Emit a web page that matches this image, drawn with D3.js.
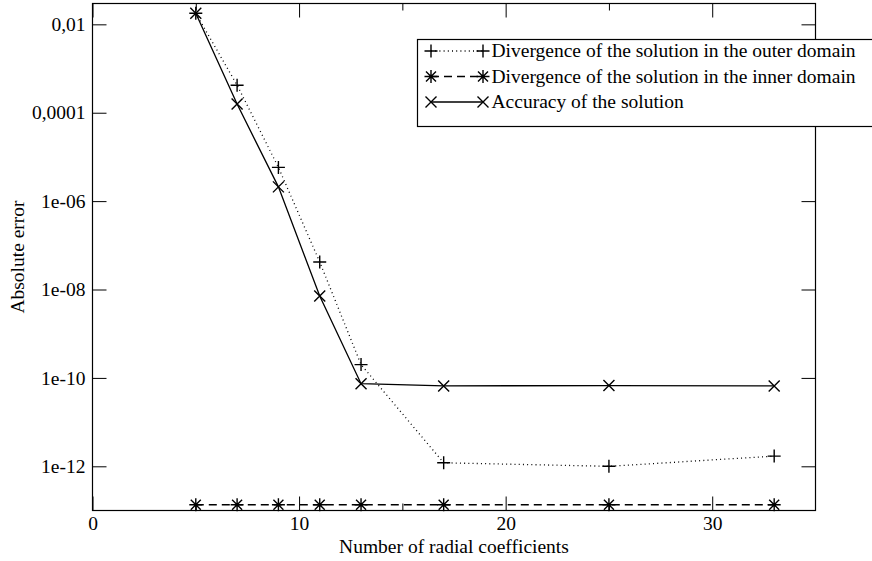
<!DOCTYPE html>
<html>
<head>
<meta charset="utf-8">
<script src="https://cdn.jsdelivr.net/npm/d3@7"></script>
<style>
  body { margin: 0; background: #fff; }
  svg text { font-family: "Liberation Serif", "Times New Roman", serif; font-size: 19.5px; fill: #000; }
</style>
</head>
<body>
<div id="chart"></div>
<script>
// number of radial coefficients
var coefs = [5, 7, 9, 11, 13, 17, 25, 33];

// absolute errors
var outerDiv = [1.78e-2, 4.2e-4, 5.8e-6, 4.2e-8, 2.0e-10, 1.2e-12, 1.0e-12, 1.7e-12];
var innerDiv = [1.35e-13, 1.35e-13, 1.35e-13, 1.35e-13, 1.35e-13, 1.35e-13, 1.35e-13, 1.35e-13];
var accuracy = [1.78e-2, 1.57e-4, 2.1e-6, 7.1e-9, 7.4e-11, 6.6e-11, 6.7e-11, 6.6e-11];

var seriesNames = [
  "Divergence of the solution in the outer domain",
  "Divergence of the solution in the inner domain",
  "Accuracy of the solution"
];

var xTicks = [0, 10, 20, 30];
var xMinorTicks = [5, 15, 25];
var yTicks = [1e-2, 1e-4, 1e-6, 1e-8, 1e-10, 1e-12];
var yTickLabels = ["0,01", "0,0001", "1e-06", "1e-08", "1e-10", "1e-12"];

var W = 872, H = 561;
var plot = {left: 92.5, right: 815.5, top: 3.5, bottom: 510.5};

var svg = d3.select('#chart').append('svg')
  .attr('width', W)
  .attr('height', H);

var x = d3.scaleLinear().domain([0, 35]).range([plot.left, plot.right]);
var y = d3.scaleLog().domain([1e-13, 0.0296]).range([plot.bottom, plot.top]);

// markers
var markers = {
  plus: 'M-6.5,0H6.5M0,-6.5V6.5',
  star: 'M-6.5,0H6.5M0,-6.5V6.5M-5,-5L5,5M-5,5L5,-5',
  cross: 'M-5.5,-5.5L5.5,5.5M-5.5,5.5L5.5,-5.5'
};

var series = [
  {name: seriesNames[0], values: outerDiv, dash: '1,3.2', marker: 'plus'},
  {name: seriesNames[1], values: innerDiv, dash: '8,5', marker: 'star'},
  {name: seriesNames[2], values: accuracy, dash: null, marker: 'cross'}
];

// ticks (gnuplot style: inward, mirrored)
var axes = svg.append('g');
axes.append('g')
  .attr('transform', 'translate(' + plot.left + ',0)')
  .call(d3.axisLeft(y).tickValues(yTicks).tickSizeInner(-14).tickSizeOuter(0).tickPadding(7)
    .tickFormat(function(d, i){ return yTickLabels[i]; }));
axes.append('g')
  .attr('transform', 'translate(' + plot.right + ',0)')
  .call(d3.axisRight(y).tickValues(yTicks).tickSizeInner(-14).tickSizeOuter(0).tickFormat(''));
axes.append('g')
  .attr('transform', 'translate(0,' + plot.bottom + ')')
  .call(d3.axisBottom(x).tickValues(xTicks).tickSizeInner(-14).tickSizeOuter(0).tickPadding(6)
    .tickFormat(d3.format('d')));
axes.append('g')
  .attr('transform', 'translate(0,' + plot.bottom + ')')
  .call(d3.axisBottom(x).tickValues(xMinorTicks).tickSizeInner(-7).tickSizeOuter(0).tickFormat(''));
axes.append('g')
  .attr('transform', 'translate(0,' + plot.top + ')')
  .call(d3.axisTop(x).tickValues(xTicks).tickSizeInner(-14).tickSizeOuter(0).tickFormat(''));
axes.append('g')
  .attr('transform', 'translate(0,' + plot.top + ')')
  .call(d3.axisTop(x).tickValues(xMinorTicks).tickSizeInner(-7).tickSizeOuter(0).tickFormat(''));

axes.selectAll('.domain').remove();
axes.selectAll('.tick line').attr('stroke', '#000').attr('stroke-width', 1);
axes.selectAll('.tick text')
  .style('font-family', '"Liberation Serif", serif')
  .style('font-size', '19.5px');

// border
svg.append('rect')
  .attr('x', plot.left).attr('y', plot.top)
  .attr('width', plot.right - plot.left).attr('height', plot.bottom - plot.top)
  .attr('fill', 'none').attr('stroke', '#000').attr('stroke-width', 1.2);

// lines
var line = d3.line()
  .x(function(d, i){ return x(coefs[i]); })
  .y(function(d){ return y(d); });

series.forEach(function(s){
  svg.append('path')
    .datum(s.values)
    .attr('d', line)
    .attr('fill', 'none')
    .attr('stroke', '#000')
    .attr('stroke-width', 1.3)
    .attr('stroke-dasharray', s.dash);

  svg.append('g').selectAll('path')
    .data(s.values)
    .enter().append('path')
    .attr('transform', function(d, i){ return 'translate(' + x(coefs[i]) + ',' + y(d) + ')'; })
    .attr('d', markers[s.marker])
    .attr('fill', 'none')
    .attr('stroke', '#000')
    .attr('stroke-width', 1.4);
});

// legend
var legend = svg.append('g');
legend.append('rect')
  .attr('x', 417.5).attr('y', 39.5)
  .attr('width', 480).attr('height', 87)
  .attr('fill', '#fff').attr('stroke', '#000').attr('stroke-width', 1.2);

series.forEach(function(s, i){
  var ly = 51 + i * 25.5;
  legend.append('line')
    .attr('x1', 431).attr('x2', 483)
    .attr('y1', ly).attr('y2', ly)
    .attr('stroke', '#000').attr('stroke-width', 1.3)
    .attr('stroke-dasharray', s.dash);
  [431, 483].forEach(function(mx){
    legend.append('path')
      .attr('transform', 'translate(' + mx + ',' + ly + ')')
      .attr('d', markers[s.marker])
      .attr('fill', 'none').attr('stroke', '#000').attr('stroke-width', 1.4);
  });
  legend.append('text')
    .attr('x', 491.5).attr('y', ly + 6)
    .text(s.name);
});

// axis titles
svg.append('text')
  .attr('x', (plot.left + plot.right) / 2).attr('y', 553)
  .attr('text-anchor', 'middle')
  .text('Number of radial coefficients');

svg.append('text')
  .attr('transform', 'translate(24,' + ((plot.top + plot.bottom) / 2) + ') rotate(-90)')
  .attr('text-anchor', 'middle')
  .text('Absolute error');
</script>
</body>
</html>
